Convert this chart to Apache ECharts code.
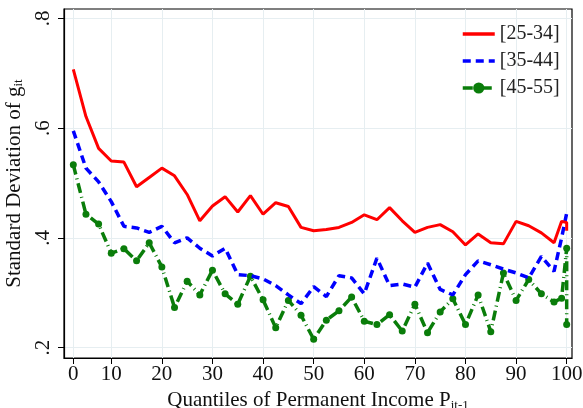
<!DOCTYPE html>
<html>
<head>
<meta charset="utf-8">
<script src="https://cdn.jsdelivr.net/npm/echarts@6/dist/echarts.min.js"></script>
<style>html,body{margin:0;padding:0;background:#fff;}#c{width:583px;height:408px;}</style>
</head>
<body>
<div id="c"></div>
<script>
// Quantile positions (the first point sits on the tick labelled "0")
var quantiles = [2.5,5,7.5,10,12.5,15,17.5,20,22.5,25,27.5,30,32.5,35,37.5,40,42.5,45,47.5,50,
  52.5,55,57.5,60,62.5,65,67.5,70,72.5,75,77.5,80,82.5,85,87.5,90,92.5,95,97.5,99,100,100];
var age25_34 = [0.707,0.621,0.563,0.540,0.538,0.493,0.510,0.527,0.513,0.479,0.431,0.458,0.475,0.447,0.477,0.443,0.464,0.457,0.419,0.413,
  0.415,0.419,0.428,0.442,0.433,0.455,0.431,0.410,0.419,0.424,0.411,0.387,0.407,0.391,0.389,0.430,0.422,0.409,0.391,0.430,0.428,0.413];
var age35_44 = [0.595,0.527,0.502,0.466,0.421,0.418,0.410,0.421,0.391,0.400,0.381,0.367,0.381,0.333,0.331,0.325,0.313,0.296,0.280,0.311,
  0.293,0.331,0.327,0.298,0.363,0.313,0.316,0.310,0.354,0.306,0.296,0.333,0.358,0.351,0.343,0.336,0.327,0.366,0.339,0.400,0.445,0.445];
var age45_55 = [0.533,0.443,0.425,0.372,0.380,0.358,0.391,0.347,0.273,0.321,0.296,0.341,0.298,0.279,0.330,0.287,0.236,0.286,0.259,0.215,
  0.250,0.267,0.292,0.248,0.242,0.260,0.230,0.279,0.227,0.265,0.289,0.242,0.296,0.229,0.336,0.286,0.324,0.298,0.283,0.290,0.381,0.242];
var seriesNames = ['[25-34]','[35-44]','[45-55]'];
var xTickValues = [2.5,10,20,30,40,50,60,70,80,90,100];
var xTickLabels = ['0','10','20','30','40','50','60','70','80','90','100'];
var yTickValues = [0.2,0.4,0.6,0.8];
var yTickLabels = ['.2','.4','.6','.8'];

function pairs(ys){ return quantiles.map(function(x,i){ return [x, ys[i]]; }); }
var FONT = 'Liberation Serif';
var chart = echarts.init(document.getElementById('c'), null, {renderer:'canvas'});
chart.setOption({
  animation:false,
  backgroundColor:'#fff',
  textStyle:{fontFamily:FONT},
  grid:{left:64, right:11, top:9, bottom:50, show:true, borderColor:'#000', borderWidth:1.2,
    backgroundColor:'#fff', outerBoundsMode:'none', containLabel:false},
  legend:{
    orient:'vertical', left:456, top:19, itemWidth:32, itemHeight:14, itemGap:7,
    textStyle:{fontFamily:FONT, fontSize:20, color:'#222'},
    data:[
      {name:seriesNames[0], itemStyle:{opacity:0}, lineStyle:{width:3.5}},
      {name:seriesNames[1], itemStyle:{opacity:0}, lineStyle:{width:3.5}},
      {name:seriesNames[2], lineStyle:{width:3.5}}
    ]
  },
  xAxis:{
    type:'value', min:0.66, max:101.05,
    axisLine:{show:true, onZero:false, lineStyle:{color:'#000', width:1.2}},
    axisTick:{show:true, length:6, customValues:xTickValues, lineStyle:{color:'#000'}},
    axisLabel:{customValues:xTickValues, fontFamily:FONT, fontSize:21, color:'#111', margin:6,
      formatter:function(v){ var i = xTickValues.indexOf(v); return i>=0 ? xTickLabels[i] : ''; }},
    splitLine:{show:true, lineStyle:{color:'#e6eef1', width:1}},
    name:'Quantiles of Permanent Income P{sub|it-1}', nameLocation:'middle', nameGap:29,
    nameTextStyle:{fontFamily:FONT, fontSize:21, color:'#111',
      rich:{sub:{fontFamily:FONT, fontSize:13, color:'#111', verticalAlign:'bottom', padding:[10,0,0,0]}}}
  },
  yAxis:{
    type:'value', min:0.181, max:0.817,
    axisLine:{show:true, onZero:false, lineStyle:{color:'#000', width:1.2}},
    axisTick:{show:true, length:6, customValues:yTickValues, lineStyle:{color:'#000'}},
    axisLabel:{customValues:yTickValues, fontFamily:FONT, fontSize:21, color:'#111', rotate:90, margin:10,
      formatter:function(v){ for(var i=0;i<yTickValues.length;i++){ if(Math.abs(yTickValues[i]-v)<1e-6) return yTickLabels[i]; } return ''; }},
    splitLine:{show:true, lineStyle:{color:'#e6eef1', width:1}},
    name:'Standard Deviation of g{sub|it}', nameLocation:'middle', nameRotate:90, nameGap:34,
    nameTextStyle:{fontFamily:FONT, fontSize:21, color:'#111',
      rich:{sub:{fontFamily:FONT, fontSize:13, color:'#111', padding:[8,0,0,0]}}}
  },
  series:[
    {name:seriesNames[0], type:'line', data:pairs(age25_34), symbol:'none', z:3,
      lineStyle:{color:'#ff0000', width:3}, itemStyle:{color:'#ff0000'}},
    {name:seriesNames[1], type:'line', data:pairs(age35_44), symbol:'none', z:2,
      lineStyle:{color:'#0000ff', width:3.5, type:[8,5]}, itemStyle:{color:'#0000ff'}},
    {name:seriesNames[2], type:'line', data:pairs(age45_55), symbol:'circle', symbolSize:7, z:1,
      lineStyle:{color:'#0a7d0a', width:3.5, type:[10,4,1,4]}, itemStyle:{color:'#0a7d0a'}}
  ]
});
</script>
</body>
</html>
